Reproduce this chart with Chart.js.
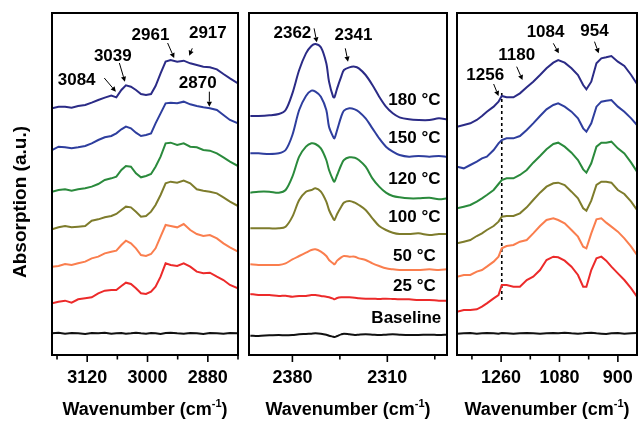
<!DOCTYPE html>
<html><head><meta charset="utf-8">
<script src="https://cdn.jsdelivr.net/npm/chart.js@4"></script>
<style>
html,body{margin:0;padding:0;background:#fff;}
body{width:638px;height:421px;overflow:hidden;position:relative;}
canvas{position:absolute;top:0;display:block;}
</style></head><body>
<canvas id="c1" width="243" height="421" style="left:0"></canvas>
<canvas id="c2" width="205" height="421" style="left:243px"></canvas>
<canvas id="c3" width="190" height="421" style="left:448px"></canvas>
<script>
// ---------- data ----------
const seriesNames = ['Baseline', '25 °C', '50 °C', '100 °C', '120 °C', '150 °C', '180 °C'];
const seriesColors = ['#111111', '#EC2A2A', '#FA7E4E', '#7E7C2C', '#2A8A3C', '#2E3E9E', '#2B2B86'];

// Panel 1: C-H stretching region
const p1Wn = [3190,3177,3164,3151,3138,3124,3111,3098,3085,3072,3062,3052,3043,3033,3023,3013,3003,2993,2984,2974,2964,2954,2941,2928,2915,2902,2889,2876,2862,2849,2836,2820];
const p1Base = [0.065,0.067,0.064,0.066,0.065,0.063,0.066,0.065,0.067,0.064,0.065,0.066,0.064,0.065,0.067,0.065,0.064,0.066,0.065,0.063,0.066,0.067,0.065,0.064,0.066,0.065,0.063,0.066,0.065,0.064,0.066,0.065];
const p1T25 = [0.155,0.160,0.163,0.157,0.167,0.170,0.173,0.185,0.193,0.195,0.195,0.207,0.217,0.213,0.200,0.185,0.183,0.190,0.205,0.235,0.275,0.270,0.267,0.275,0.265,0.250,0.245,0.247,0.235,0.225,0.210,0.200];
const p1T50 = [0.265,0.267,0.273,0.270,0.275,0.280,0.290,0.295,0.305,0.310,0.313,0.330,0.343,0.335,0.320,0.300,0.297,0.303,0.320,0.355,0.390,0.387,0.383,0.393,0.375,0.363,0.357,0.360,0.350,0.335,0.323,0.310];
const p1T100 = [0.377,0.383,0.387,0.383,0.385,0.387,0.403,0.407,0.413,0.417,0.423,0.435,0.445,0.443,0.430,0.415,0.417,0.430,0.450,0.480,0.515,0.520,0.517,0.523,0.515,0.497,0.493,0.490,0.485,0.473,0.460,0.447];
const p1T120 = [0.490,0.495,0.497,0.493,0.497,0.500,0.505,0.513,0.525,0.530,0.535,0.555,0.567,0.565,0.545,0.533,0.537,0.543,0.565,0.595,0.635,0.637,0.630,0.635,0.625,0.623,0.615,0.613,0.605,0.593,0.580,0.567];
const p1T150 = [0.615,0.625,0.623,0.620,0.623,0.627,0.635,0.645,0.653,0.657,0.665,0.677,0.685,0.680,0.667,0.657,0.660,0.665,0.695,0.725,0.755,0.757,0.755,0.760,0.752,0.747,0.743,0.740,0.735,0.720,0.705,0.695];
const p1T180 = [0.740,0.745,0.745,0.742,0.747,0.750,0.757,0.765,0.772,0.778,0.773,0.795,0.809,0.805,0.795,0.783,0.780,0.783,0.807,0.845,0.880,0.885,0.880,0.883,0.875,0.870,0.865,0.863,0.857,0.843,0.830,0.815];

// Panel 2: CO2 region
const p2Wn = [2411,2405,2397,2390,2385,2380,2375,2370,2366,2363,2359,2355,2353,2350,2349,2347,2344,2342,2338,2334,2331,2326,2321,2316,2311,2306,2301,2294,2287,2279,2272,2266];
const p2Base = [0.058,0.057,0.059,0.060,0.059,0.060,0.062,0.063,0.064,0.065,0.064,0.061,0.058,0.055,0.054,0.057,0.062,0.064,0.062,0.060,0.061,0.062,0.061,0.060,0.061,0.062,0.061,0.060,0.060,0.061,0.060,0.061];
const p2T25 = [0.183,0.180,0.180,0.177,0.178,0.175,0.177,0.177,0.180,0.180,0.177,0.175,0.173,0.169,0.167,0.171,0.173,0.173,0.173,0.172,0.170,0.169,0.169,0.168,0.169,0.168,0.167,0.167,0.165,0.165,0.163,0.163];
const p2T50 = [0.272,0.270,0.270,0.270,0.275,0.287,0.297,0.307,0.315,0.317,0.310,0.297,0.285,0.275,0.272,0.283,0.293,0.297,0.295,0.295,0.290,0.285,0.275,0.267,0.260,0.257,0.255,0.255,0.255,0.257,0.255,0.257];
const p2T100 = [0.380,0.380,0.380,0.380,0.385,0.415,0.465,0.490,0.495,0.500,0.490,0.460,0.435,0.410,0.405,0.423,0.445,0.457,0.462,0.457,0.450,0.435,0.410,0.387,0.375,0.367,0.363,0.363,0.365,0.360,0.363,0.363];
const p2T120 = [0.487,0.490,0.490,0.487,0.495,0.535,0.595,0.625,0.635,0.633,0.620,0.585,0.555,0.525,0.520,0.540,0.570,0.585,0.593,0.592,0.585,0.565,0.530,0.505,0.487,0.477,0.473,0.470,0.470,0.472,0.467,0.470];
const p2T150 = [0.605,0.605,0.603,0.605,0.615,0.660,0.735,0.777,0.793,0.790,0.775,0.735,0.685,0.655,0.650,0.675,0.715,0.733,0.740,0.737,0.730,0.710,0.680,0.650,0.625,0.610,0.600,0.595,0.597,0.595,0.597,0.595];
const p2T180 = [0.717,0.717,0.719,0.723,0.735,0.785,0.855,0.905,0.927,0.933,0.923,0.875,0.820,0.775,0.773,0.800,0.835,0.855,0.863,0.865,0.860,0.840,0.810,0.775,0.745,0.725,0.713,0.707,0.705,0.705,0.710,0.707];

// Panel 3: fingerprint region
const p3Wn = [1396,1375,1355,1335,1319,1304,1283,1268,1258,1243,1222,1202,1181,1161,1140,1120,1099,1084,1064,1043,1023,1007,997,982,966,951,936,920,900,880,859,841];
const p3Base = [0.064,0.065,0.066,0.064,0.065,0.066,0.065,0.064,0.066,0.065,0.064,0.065,0.066,0.065,0.064,0.065,0.066,0.065,0.067,0.065,0.064,0.065,0.066,0.067,0.065,0.064,0.063,0.065,0.066,0.064,0.065,0.066];
const p3T25 = [0.130,0.135,0.135,0.137,0.145,0.155,0.170,0.180,0.210,0.210,0.205,0.205,0.225,0.235,0.255,0.285,0.295,0.293,0.283,0.265,0.240,0.205,0.205,0.255,0.290,0.295,0.283,0.265,0.245,0.225,0.200,0.175];
const p3T50 = [0.235,0.240,0.240,0.250,0.255,0.265,0.280,0.295,0.320,0.327,0.330,0.340,0.345,0.365,0.387,0.405,0.410,0.405,0.395,0.375,0.355,0.325,0.320,0.365,0.407,0.410,0.397,0.385,0.370,0.350,0.325,0.300];
const p3T100 = [0.335,0.340,0.345,0.357,0.365,0.375,0.387,0.400,0.415,0.417,0.417,0.425,0.443,0.465,0.487,0.505,0.515,0.517,0.510,0.490,0.470,0.440,0.433,0.463,0.510,0.520,0.520,0.517,0.495,0.483,0.460,0.435];
const p3T120 = [0.440,0.445,0.450,0.460,0.470,0.480,0.495,0.513,0.525,0.530,0.530,0.540,0.555,0.577,0.597,0.617,0.633,0.637,0.625,0.607,0.585,0.557,0.547,0.575,0.625,0.637,0.637,0.640,0.620,0.605,0.577,0.550];
const p3T150 = [0.565,0.560,0.570,0.580,0.590,0.595,0.615,0.635,0.645,0.650,0.650,0.657,0.675,0.695,0.717,0.737,0.750,0.755,0.745,0.730,0.710,0.680,0.670,0.695,0.745,0.760,0.763,0.765,0.745,0.730,0.710,0.690];
const p3T180 = [0.685,0.690,0.695,0.705,0.717,0.730,0.745,0.760,0.777,0.773,0.773,0.785,0.803,0.820,0.840,0.860,0.877,0.885,0.877,0.860,0.840,0.810,0.797,0.820,0.875,0.890,0.893,0.897,0.880,0.867,0.840,0.813];

// Tick labels
const p1Ticks = [3180,3120,3060,3000,2940,2880,2820];
const p1Labels = [3120,3000,2880];
const p2Ticks = [2380,2345,2310,2275];
const p2Labels = [2380,2310];
const p3Ticks = [1350,1260,1170,1080,990,900];
const p3Labels = [1260,1080,900];

// Marker line at 1256 cm-1 in panel 3
const p3MarkerWn = [1258, 1258];
const p3MarkerVal = [0.786, 0.156];

// ---------- drawing ----------
const FONT = '"Liberation Sans", Arial, Helvetica, sans-serif';

function series(wn, arrays, smooth) {
  return arrays.map((vals, i) => ({
    label: seriesNames[i],
    data: wn.map((w, k) => ({x: w, y: vals[k]})),
    borderColor: seriesColors[i],
    borderWidth: 2,
    pointRadius: 0,
    fill: false,
    tension: smooth ? 0.3 : 0
  }));
}

function decor(cfg) {
  return {
    id: 'decor',
    afterDatasetsDraw(chart) {
      const ctx = chart.ctx, a = chart.chartArea, x = chart.scales.x, y = chart.scales.y;
      ctx.save();
      ctx.strokeStyle = '#000';
      ctx.lineWidth = 2;
      ctx.strokeRect(a.left, a.top, a.right - a.left, a.bottom - a.top);
      ctx.lineWidth = 1.6;
      cfg.ticks.forEach(v => {
        const px = x.getPixelForValue(v);
        const len = cfg.labels.includes(v) ? 7 : 4.5;
        ctx.beginPath(); ctx.moveTo(px, a.bottom); ctx.lineTo(px, a.bottom + len); ctx.stroke();
      });
      // annotations
      ctx.fillStyle = '#000';
      ctx.textAlign = 'center';
      ctx.textBaseline = 'middle';
      (cfg.texts || []).forEach(t => {
        ctx.font = 'bold ' + (t.size || 17) + 'px ' + FONT;
        ctx.fillText(t.text, x.getPixelForValue(t.wn), y.getPixelForValue(t.v));
      });
      ctx.lineWidth = 1;
      (cfg.arrows || []).forEach(r => {
        const x1 = x.getPixelForValue(r[0]), y1 = y.getPixelForValue(r[1]);
        const x2 = x.getPixelForValue(r[2]), y2 = y.getPixelForValue(r[3]);
        const ang = Math.atan2(y2 - y1, x2 - x1);
        const hl = 5, hw = 2.6;
        const bx = x2 - hl * Math.cos(ang), by = y2 - hl * Math.sin(ang);
        ctx.beginPath(); ctx.moveTo(x1, y1); ctx.lineTo(bx, by); ctx.stroke();
        ctx.beginPath();
        ctx.moveTo(x2, y2);
        ctx.lineTo(bx + hw * Math.sin(ang), by - hw * Math.cos(ang));
        ctx.lineTo(bx - hw * Math.sin(ang), by + hw * Math.cos(ang));
        ctx.closePath(); ctx.fill();
      });
      // x title with superscript
      const cx = (a.left + a.right) / 2, base = 415;
      ctx.textBaseline = 'alphabetic';
      ctx.textAlign = 'left';
      ctx.font = 'bold 18px ' + FONT;
      const s1 = 'Wavenumber (cm', s3 = ')';
      const w1 = ctx.measureText(s1).width, w3 = ctx.measureText(s3).width;
      ctx.font = 'bold 11px ' + FONT;
      const s2 = '-1';
      const w2 = ctx.measureText(s2).width;
      let sx = cx - (w1 + w2 + w3) / 2;
      ctx.font = 'bold 18px ' + FONT;
      ctx.fillText(s1, sx, base);
      ctx.font = 'bold 11px ' + FONT;
      ctx.fillText(s2, sx + w1, base - 8);
      ctx.font = 'bold 18px ' + FONT;
      ctx.fillText(s3, sx + w1 + w2, base);
      if (cfg.yTitle) {
        ctx.save();
        ctx.translate(21, 202);
        ctx.rotate(-Math.PI / 2);
        ctx.textAlign = 'center';
        ctx.textBaseline = 'middle';
        ctx.font = 'bold 19px ' + FONT;
        ctx.fillText(cfg.yTitle, 0, 0);
        ctx.restore();
      }
      ctx.restore();
    }
  };
}

function makeChart(id, cfg) {
  return new Chart(document.getElementById(id), {
    type: 'line',
    data: { datasets: cfg.datasets },
    options: {
      responsive: false,
      animation: false,
      events: [],
      layout: { padding: cfg.padding },
      plugins: { legend: { display: false }, tooltip: { enabled: false } },
      scales: {
        x: {
          type: 'linear', reverse: true, min: cfg.min, max: cfg.max,
          afterFit: s => { s.height = 66; },
          afterBuildTicks: s => { s.ticks = cfg.ticks.map(v => ({ value: v })); },
          ticks: {
            autoSkip: false, maxRotation: 0, minRotation: 0, padding: 5, color: '#000',
            font: { family: FONT, size: 18, weight: 'bold' },
            callback: v => cfg.labels.includes(v) ? String(v) : ''
          },
          grid: { display: true, drawOnChartArea: false, drawTicks: true, tickLength: 7, tickColor: 'rgba(0,0,0,0)' },
          border: { display: false }
        },
        y: { display: false, min: 0, max: 1.026 }
      }
    },
    plugins: [decor(cfg)]
  });
}

makeChart('c1', {
  datasets: series(p1Wn, [p1Base, p1T25, p1T50, p1T100, p1T120, p1T150, p1T180], false),
  padding: { left: 52, right: 3, top: 13, bottom: 0 },
  min: 2820, max: 3190, ticks: p1Ticks, labels: p1Labels,
  yTitle: 'Absorption (a.u.)',
  texts: [
    { text: '3084', wn: 3141, v: 0.825 },
    { text: '3039', wn: 3069, v: 0.895 },
    { text: '2961', wn: 2994, v: 0.960 },
    { text: '2917', wn: 2880, v: 0.965 },
    { text: '2870', wn: 2900, v: 0.815 }
  ],
  arrows: [
    [3086, 0.831, 3063, 0.790],
    [3056, 0.876, 3045, 0.820],
    [2960, 0.936, 2947, 0.891],
    [2911, 0.920, 2917, 0.898],
    [2877, 0.790, 2877, 0.745]
  ]
});

makeChart('c2', {
  datasets: series(p2Wn, [p2Base, p2T25, p2T50, p2T100, p2T120, p2T150, p2T180], true),
  padding: { left: 6, right: 1, top: 13, bottom: 0 },
  min: 2266, max: 2412, ticks: p2Ticks, labels: p2Labels,
  texts: [
    { text: '2362', wn: 2380, v: 0.965 },
    { text: '2341', wn: 2335, v: 0.960 },
    { text: '180 °C', wn: 2290, v: 0.765 },
    { text: '150 °C', wn: 2290, v: 0.650 },
    { text: '120 °C', wn: 2290, v: 0.527 },
    { text: '100 °C', wn: 2290, v: 0.413 },
    { text: '50 °C', wn: 2290, v: 0.297 },
    { text: '25 °C', wn: 2290, v: 0.207 },
    { text: 'Baseline', wn: 2296, v: 0.110 }
  ],
  arrows: [
    [2364, 0.980, 2362, 0.938],
    [2341, 0.920, 2339, 0.880]
  ]
});

const c3 = series(p3Wn, [p3Base, p3T25, p3T50, p3T100, p3T120, p3T150, p3T180], false);
c3.push({
  label: 'marker',
  data: p3MarkerWn.map((w, k) => ({ x: w, y: p3MarkerVal[k] })),
  borderColor: '#000', borderWidth: 1.6, borderDash: [3, 3], pointRadius: 0, fill: false
});
makeChart('c3', {
  datasets: c3,
  padding: { left: 9, right: 1, top: 13, bottom: 0 },
  min: 841, max: 1396, ticks: p3Ticks, labels: p3Labels,
  texts: [
    { text: '1256', wn: 1309, v: 0.840 },
    { text: '1180', wn: 1212, v: 0.900 },
    { text: '1084', wn: 1123, v: 0.967 },
    { text: '954', wn: 972, v: 0.970 }
  ],
  arrows: [
    [1283, 0.813, 1268, 0.777],
    [1212, 0.865, 1194, 0.825],
    [1099, 0.935, 1082, 0.905],
    [972, 0.940, 959, 0.905]
  ]
});
</script>
</body></html>
